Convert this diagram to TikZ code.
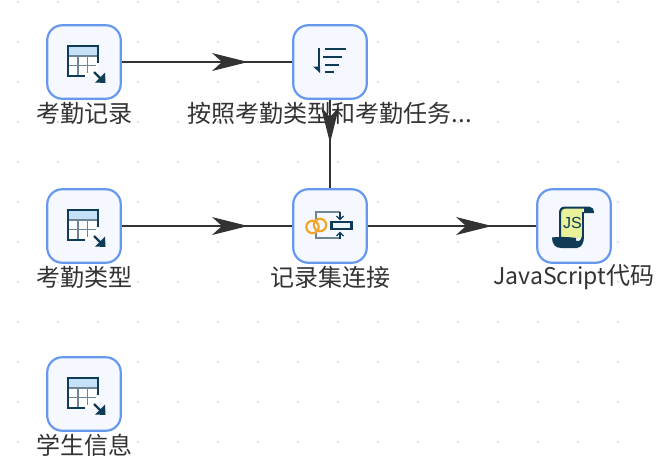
\documentclass[tikz,border=0pt]{standalone}
\usepackage{fontspec}
\setmainfont{Noto Sans CJK SC}
\newfontfamily\latinf{Liberation Sans}
\begin{document}
\begin{tikzpicture}[x=1pt,y=-1pt,
  stepbox/.style={draw=boxblue,line width=2.2pt,fill=boxfill,rounded corners=15pt,minimum size=73.5pt,inner sep=0pt},
  lbl/.style={text=txt,font=\fontsize{24pt}{26pt}\selectfont,inner sep=0pt,anchor=center},
  hop/.style={draw=linec,line width=2pt}]
\definecolor{boxblue}{HTML}{6699EE}
\definecolor{boxfill}{HTML}{F5F9FF}
\definecolor{txt}{HTML}{333333}
\definecolor{linec}{HTML}{333333}
\definecolor{navy}{HTML}{0F3B57}
\definecolor{tabhead}{HTML}{C5E1F7}
\definecolor{dotc}{HTML}{BBBBBB}
\definecolor{jsy}{HTML}{E9F29A}
\definecolor{ring}{HTML}{F2A52B}
\definecolor{grayn}{HTML}{6F8494}
\useasboundingbox (0,0) rectangle (656,474);
\fill[white] (0,0) rectangle (656,474);
\foreach \i in {0,...,15} \foreach \j in {0,...,11}
  \fill[dotc] ({18+40*\i},{2+40*\j}) circle (0.9pt);
\node[stepbox] (a) at (84,62) {};
\node[stepbox] (b) at (330,62) {};
\node[stepbox] (c) at (84,226) {};
\node[stepbox] (d) at (330,226) {};
\node[stepbox] (e) at (574,226) {};
\node[stepbox] (f) at (84,394) {};
\node[lbl] (la) at (84,113) {考勤记录};
\node[lbl] (lb) at (330,113) {按照考勤类型和考勤任务...};
\node[lbl] (lc) at (84,277) {考勤类型};
\node[lbl] (ld) at (330,277) {记录集连接};
\node[lbl] (le) at (574,277) {{\fontsize{23pt}{26pt}\selectfont JavaScript}代码};
\node[lbl] (lf) at (84,445) {学生信息};
\draw[hop] (a) -- (b);
\draw[hop] (c) -- (d);
\draw[hop] (d) -- (e);
\draw[hop] (b) -- (d);
\foreach \x/\y in {248/62,248/226,492/226}
  \fill[linec] (\x,\y) -- (\x-36,\y-9) -- (\x-26,\y) -- (\x-36,\y+9) -- cycle;
\fill[linec] (330,143) -- (321,107) -- (330,117) -- (339,107) -- cycle;
\foreach \cx/\cy in {84/62,84/226,84/394} {
  \begin{scope}[shift={(\cx,\cy)}]
    \fill[white] (-16,-16) rectangle (14,14);
    \fill[tabhead] (-16,-16) rectangle (14,-6);
    \draw[grayn,line width=1.2pt] (-16,-6) -- (14,-6) (-16,3.5) -- (12,3.5) (-6,-6) -- (-6,14) (3.5,-6) -- (3.5,11);
    \draw[navy,line width=2.2pt] (14,1) -- (14,-16) -- (-16,-16) -- (-16,14) -- (1,14);
    \draw[navy,line width=2.4pt] (10,10) -- (18,18);
    \fill[navy] (21.5,21) -- (21,10.5) -- (11,20.5) -- cycle;
  \end{scope}}
\begin{scope}[shift={(330,62)}]
  \draw[navy,line width=2pt] (-11,-14) -- (-11,8);
  \fill[navy] (-10,11) -- (-17,4.5) -- (-10,4.5) -- cycle;
  \draw[navy,line width=2pt] (-5,-13) -- (16,-13) (-7,-5) -- (12,-5) (-5,3) -- (9,3) (-5,10) -- (4,10);
\end{scope}
\begin{scope}[shift={(330,226)}]
  \draw[grayn,line width=1.3pt] (-14,-6) -- (-14,-14) -- (10,-14) (-14,6) -- (-14,12) -- (10,12);
  \draw[navy,line width=1.3pt] (10,-14) -- (10,-7) (10,13) -- (10,6.5);
  \draw[navy,line width=1.3pt] (6.5,-10) -- (10,-6.5) -- (13.5,-10) (6.5,10) -- (10,6.5) -- (13.5,10);
  \draw[navy,line width=2.2pt,fill=tabhead!30!white] (1.5,-4) rectangle (21.5,3);
  \draw[ring,line width=2.2pt] (-17.5,1) circle (6.2pt) (-10,-1) circle (6.2pt);
\end{scope}
\begin{scope}[shift={(574,226)}]
  \fill[jsy] (-14,-18) -- (9,-18) -- (9,12) -- (-14,12) -- cycle;
  \fill[navy] (-9,-19.5) -- (15,-19.5) .. controls (18,-19.5) and (20,-17) .. (20,-13) -- (10,-13) -- (10,-17.5) -- (-9,-17.5) .. controls (-12,-17.5) and (-13,-15) .. (-13,-13) -- (-13,11) -- (-15,11) -- (-15,-13) .. controls (-15,-17) and (-13,-19.5) .. (-9,-19.5) -- cycle;
  \fill[navy] (8,-14) rectangle (10,12);
  \fill[navy] (-22,11.5) .. controls (-14,10.5) and (-4,11) .. (2,12) -- (2,15) .. controls (4,16) and (7,15) .. (8,10) -- (10,10) .. controls (10,17) and (8,21) .. (3,22) -- (-13,22) .. controls (-19,22) and (-22,18) .. (-22,11.5) -- cycle;
  \node[inner sep=0pt,text=navy,font=\latinf\fontsize{16pt}{16pt}\selectfont] (js) at (-1.5,-3) {JS};
\end{scope}
\end{tikzpicture}
\end{document}
